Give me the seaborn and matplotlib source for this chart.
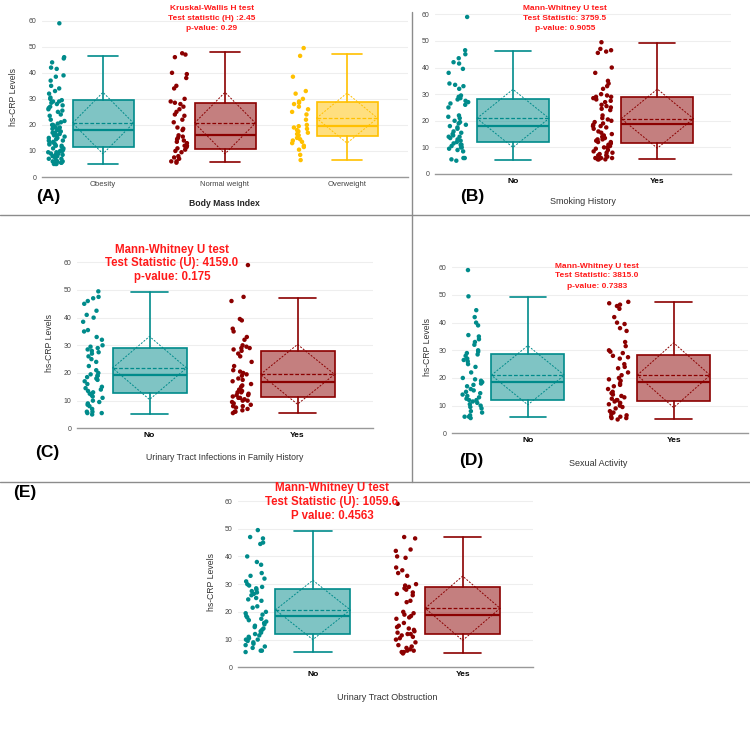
import numpy as np
import pandas as pd
import matplotlib
matplotlib.use("Agg")
import matplotlib.pyplot as plt
from matplotlib.lines import Line2D
import seaborn as sns

# ---- data ----
# box stats: q1, median, q3, lower whisker, upper whisker, mean, sd
bmi_groups = ["Obesity", "Normal weight", "Overweight"]
bmi_q1 = [11.5, 10.9, 15.6]
bmi_med = [18.1, 16.1, 19.7]
bmi_q3 = [29.4, 28.3, 28.7]
bmi_lo = [5.1, 5.6, 6.4]
bmi_hi = [46.6, 48.1, 47.2]
bmi_mean = [20.7, 20.7, 22.6]
bmi_sd = [11.8, 11.8, 9.6]
bmi_obesity = [59, 46, 45.5, 44, 42, 41.5, 39, 38.5, 37, 35, 34, 33, 32, 30.5, 30, 29.5, 29, 29,
               28.5, 28, 27.5, 27, 26.5, 26, 25.5, 25, 24, 23.5, 22, 21.5, 21, 20.5, 20, 20, 19.5,
               19, 19, 18.5, 18, 18, 17.5, 17, 17, 16.5, 16, 16, 15.5, 15, 15, 14.5, 14, 14, 13.5,
               13, 13, 12.5, 12.5, 12, 12, 11.5, 11, 11, 10.5, 10, 10, 9.5, 9.5, 9, 9, 8.5, 8.5,
               8, 8, 7.5, 7, 7, 6.5, 6, 6, 6, 5.5, 5.5, 5.5, 5, 5, 5]
bmi_normal = [47.5, 47, 46, 40, 39.5, 38, 35, 34, 30, 29, 28.5, 28, 27, 26, 25, 24, 23.5, 22, 21,
              19, 18.5, 18, 16, 15.5, 15, 14.5, 14, 13.5, 13, 12, 12, 11.5, 11, 10.5, 10, 9.5, 8,
              7.5, 7, 6, 6, 5.5]
bmi_over = [49.5, 46.5, 38.5, 33, 32, 30, 29, 28.5, 28, 27, 26, 25, 24, 22, 20, 19.5, 19, 18.5,
            18, 17.5, 17, 16.5, 16, 15, 14.5, 14, 13.5, 13, 12, 11.5, 10.5, 8.5, 6.5]

yn_groups = ["No", "Yes"]

smk_q1 = [12.0, 11.8]
smk_med = [18.0, 18.9]
smk_q3 = [28.1, 28.8]
smk_lo = [5.1, 5.5]
smk_hi = [46.2, 49.4]
smk_mean = [20.9, 20.8]
smk_sd = [10.9, 11.1]
smk_no = [59, 46.5, 45, 43.5, 42, 41.5, 39.5, 38, 34, 33.5, 33, 32, 29.5, 29, 28.5, 28, 27.5, 27,
          26.5, 26, 25, 22, 21.5, 21, 20, 19.5, 19, 18.5, 18, 17.5, 17, 16, 15.5, 15, 14.5, 14,
          14, 13.5, 13, 12.5, 12, 11.5, 11, 11, 10.5, 10, 10, 9.5, 9, 8.5, 6, 6, 5.5, 5]
smk_yes = [49.5, 47, 46.5, 46, 45.5, 40, 38, 35, 34, 33, 32, 30, 29.5, 29, 29, 28.5, 28, 27.5,
           27, 26, 25.5, 25, 24.5, 24, 22, 21, 20.5, 20, 19.5, 19, 18.5, 18, 18, 17.5, 17, 16,
           15.5, 15, 14.5, 14, 13.5, 13, 13, 12.5, 12, 12, 11.5, 11, 10.5, 10, 10, 9.5, 9, 8.5,
           8, 8, 7.5, 7, 7, 6.5, 6, 6, 6, 5.5, 5.5, 5.5]

uti_q1 = [12.7, 11.4]
uti_med = [19.3, 16.9]
uti_q3 = [28.9, 28.1]
uti_lo = [5.1, 5.7]
uti_hi = [49.4, 47.0]
uti_mean = [21.8, 19.5]
uti_sd = [11.4, 10.8]
uti_no = [49.5, 47.5, 47, 46, 45, 42.5, 41, 40, 38.5, 35.5, 35, 33, 32, 30, 29.5, 29, 28.5, 28,
          27.5, 27, 26, 25, 24, 22.5, 21, 20, 19.5, 19, 19, 18.5, 18, 17.5, 17, 16, 15, 14.5, 14,
          13.5, 13, 12.5, 12, 11.5, 11, 10, 9.5, 9, 8.5, 8, 7, 6, 6, 5.5, 5.5, 5]
uti_yes = [59, 47.5, 46, 39.5, 39, 36, 35, 33, 32, 30, 29.5, 29, 29, 28.5, 28, 27, 26, 24, 22.5,
           21, 20.5, 20, 19.5, 19, 18, 17.5, 17, 16, 15.5, 15, 14, 13.5, 13, 13, 12.5, 12, 12,
           11.5, 11, 11, 10.5, 10, 10, 9.5, 9, 8.5, 8, 8, 7.5, 7, 6.5, 6, 6, 5.5]

sex_q1 = [11.9, 11.8]
sex_med = [18.7, 18.4]
sex_q3 = [28.6, 28.3]
sex_lo = [5.8, 5.1]
sex_hi = [49.4, 47.5]
sex_mean = [21.0, 21.0]
sex_sd = [10.7, 11.7]
sex_no = [59, 49.5, 44.5, 42, 40, 39, 35.5, 35, 34, 33, 32, 30, 29.5, 29, 28.5, 28, 27, 26.5, 26,
          25, 24, 22, 20, 19.5, 19, 18.5, 18, 17.5, 17, 16, 15.5, 15, 14.5, 14, 13.5, 13, 12.5,
          12, 12, 11.5, 11, 10.5, 10, 9.5, 9, 8, 7.5, 6.5, 6, 6, 5.5]
sex_yes = [47.5, 47, 46.5, 46, 45, 42, 40, 39.5, 38, 37, 33, 31.5, 30, 29.5, 29, 28, 27.5, 27, 25,
           24, 23.5, 22, 21, 20, 19.5, 19, 18, 17.5, 17, 16, 15, 14.5, 14, 13.5, 13, 12.5, 12, 12,
           11.5, 11, 10.5, 10, 9.5, 9, 8, 7.5, 7, 6.5, 6, 6, 5.5, 5.5, 5]

obs_q1 = [12.0, 11.9]
obs_med = [18.5, 19.0]
obs_q3 = [28.1, 28.9]
obs_lo = [5.7, 5.3]
obs_hi = [49.3, 47.1]
obs_mean = [20.7, 21.3]
obs_sd = [10.7, 11.6]
obs_no = [49.5, 47, 46.5, 45, 44.5, 40, 38, 37, 34, 33, 32, 31, 30, 29.5, 29, 28.5, 28, 27.5, 27,
          26.5, 26, 25, 24.5, 24, 22, 21.5, 20, 19.5, 19, 18.5, 18, 17.5, 17, 16.5, 16, 15.5, 15,
          14.5, 14, 13.5, 13, 12.5, 12, 11.5, 11, 10.5, 10, 10, 9.5, 9, 8.5, 8, 7.5, 7, 6, 6, 5.5]
obs_yes = [59, 47, 46.5, 42.5, 42, 40, 39.5, 36, 35, 34, 33, 30, 29.5, 29, 28.5, 28, 27, 26.5, 26,
           24, 23.5, 20, 19.5, 19, 18.5, 18, 17.5, 16, 15, 14.5, 14, 13.5, 13, 12.5, 12, 12,
           11.5, 11, 10.5, 10, 9, 8, 7.5, 7, 6.5, 6, 6, 5.5, 5.5, 5]

TEAL = "#008B8B"
DARKRED = "#8B0000"
GOLD = "#FFC000"

W, H = 750, 747

sns.set_theme(style="white")
plt.rcParams["font.family"] = ["Liberation Sans", "DejaVu Sans"]

fig = plt.figure(figsize=(W / 100, H / 100), dpi=100)


def ftext(x, y, s, **kw):
    kw.setdefault("ha", "center")
    kw.setdefault("va", "center")
    fig.text(x / W, 1 - y / H, s, **kw)


def make_axes(left, right, y0, y60, ymax=63):
    ppu = (y0 - y60) / 60.0
    hpx = ymax * ppu
    return fig.add_axes([left / W, 1 - y0 / H, (right - left) / W, hpx / H])


def draw_panel(ax, groups, series, q1, med, q3, lo, hi, mean, sd, colors, xlim,
               bold_ticks=True):
    df = pd.DataFrame({
        "group": np.repeat(groups, [len(s) for s in series]),
        "value": np.concatenate([np.asarray(s, float) for s in series]),
    })
    n_before = len(ax.collections)
    sns.stripplot(data=df, x="group", y="value", hue="group", order=groups,
                  hue_order=groups, palette=colors, jitter=0.07, size=3.2,
                  linewidth=0, legend=False, ax=ax)
    # points sit to the left of their box
    for coll in ax.collections[n_before:]:
        off = coll.get_offsets()
        off[:, 0] = off[:, 0] - 0.38
        coll.set_offsets(off)

    bw = 0.5
    for i, c in enumerate(colors):
        st = [dict(med=med[i], q1=q1[i], q3=q3[i], whislo=lo[i], whishi=hi[i], fliers=[])]
        ax.bxp(st, positions=[i], widths=bw, capwidths=bw / 2, patch_artist=True,
               showfliers=False, manage_ticks=False,
               boxprops=dict(facecolor=matplotlib.colors.to_rgba(c, 0.5), edgecolor=c, lw=1.2),
               medianprops=dict(color=c, lw=1.6),
               whiskerprops=dict(color=c, lw=1.2),
               capprops=dict(color=c, lw=1.2))
        ax.hlines(mean[i], i - bw / 2, i + bw / 2, colors=c, lw=0.9, linestyles=(0, (3, 1.5)))
        ax.plot([i - bw / 2, i, i + bw / 2, i, i - bw / 2],
                [mean[i], mean[i] + sd[i], mean[i], mean[i] - sd[i], mean[i]],
                color=c, lw=0.7, ls=(0, (2, 1.5)))

    ax.set_xlim(*xlim)
    ax.set_ylim(0, 63)
    ax.set_xticks(range(len(groups)))
    if bold_ticks:
        ax.set_xticklabels(groups, fontsize=6, fontweight="bold", color="black")
    else:
        ax.set_xticklabels(groups, fontsize=5.5, color="#444444")
    ax.set_yticks([0, 10, 20, 30, 40, 50, 60])
    ax.set_yticklabels(["0", "10", "20", "30", "40", "50", "60"], fontsize=5, color="#444444")
    ax.tick_params(axis="x", length=0, pad=3)
    ax.tick_params(axis="y", length=2.5, width=0.6, color="#999999", pad=1.5)
    ax.grid(axis="y", color="#eeeeee", lw=0.8)
    ax.set_axisbelow(True)
    ax.set_xlabel("")
    ax.set_ylabel("")
    for side in ["top", "right", "left"]:
        ax.spines[side].set_visible(False)
    ax.spines["bottom"].set_color("#999999")
    ax.spines["bottom"].set_linewidth(1.0)
    ax.patch.set_alpha(0)


# (A) Body Mass Index
axA = make_axes(42, 408, 177, 20.7)
draw_panel(axA, bmi_groups, [bmi_obesity, bmi_normal, bmi_over], bmi_q1, bmi_med, bmi_q3,
           bmi_lo, bmi_hi, bmi_mean, bmi_sd, [TEAL, DARKRED, GOLD], (-0.5, 2.5),
           bold_ticks=False)
# (B) Smoking History
axB = make_axes(435, 731, 174, 14.3)
draw_panel(axB, yn_groups, [smk_no, smk_yes], smk_q1, smk_med, smk_q3, smk_lo, smk_hi,
           smk_mean, smk_sd, [TEAL, DARKRED], (-0.54, 1.51))
# (C) UTI in family history
axC = make_axes(77, 373, 428.3, 262.3)
draw_panel(axC, yn_groups, [uti_no, uti_yes], uti_q1, uti_med, uti_q3, uti_lo, uti_hi,
           uti_mean, uti_sd, [TEAL, DARKRED], (-0.49, 1.51))
# (D) Sexual Activity
axD = make_axes(452, 748, 433.3, 267.3)
draw_panel(axD, yn_groups, [sex_no, sex_yes], sex_q1, sex_med, sex_q3, sex_lo, sex_hi,
           sex_mean, sex_sd, [TEAL, DARKRED], (-0.52, 1.51))
# (E) Urinary Tract Obstruction
axE = make_axes(238, 533, 667.3, 501)
draw_panel(axE, yn_groups, [obs_no, obs_yes], obs_q1, obs_med, obs_q3, obs_lo, obs_hi,
           obs_mean, obs_sd, [TEAL, DARKRED], (-0.5, 1.47))

# axis titles / panel letters
lab = dict(fontsize=6.2, color="#333333", rotation=90)
ftext(14, 97, "hs-CRP Levels", **lab)
ftext(50, 343, "hs-CRP Levels", **lab)
ftext(427, 347, "hs-CRP Levels", **lab)
ftext(212, 582, "hs-CRP Levels", **lab)

ftext(224, 203, "Body Mass Index", fontsize=6.2, fontweight="bold", color="#222222")
ftext(583, 202, "Smoking History", fontsize=6.5, color="#333333")
ftext(225, 458, "Urinary Tract Infections in Family History", fontsize=6.3, color="#333333")
ftext(598, 463, "Sexual Activity", fontsize=6.5, color="#333333")
ftext(387, 697, "Urinary Tract Obstruction", fontsize=6.5, color="#333333")

letter = dict(fontsize=12.5, fontweight="bold", color="black")
ftext(48, 197, "(A)", **letter)
ftext(472, 197, "(B)", **letter)
ftext(47, 453, "(C)", **letter)
ftext(471, 460, "(D)", **letter)
ftext(25, 493, "(E)", **letter)

# test annotations
RED = "#FF1A1A"
small = dict(fontsize=6, fontweight="bold", color=RED)
big = dict(fontsize=8.3, fontweight="bold", color=RED)
for y, s in zip([8, 19, 29], ["Kruskal-Wallis H test", "Test statistic (H) :2.45", "p-value: 0.29"]):
    ftext(212, y, s, **small)
for y, s in zip([9, 19, 29], ["Mann-Whitney U test", "Test Statistic: 3759.5", "p-value: 0.9055"]):
    ftext(565, y, s, **small)
for y, s in zip([250, 263.5, 277], ["Mann-Whitney U test", "Test Statistic (U): 4159.0", "p-value: 0.175"]):
    ftext(172, y, s, **big)
for y, s in zip([266, 276, 286], ["Mann-Whitney U test", "Test Statistic: 3815.0", "p-value: 0.7383"]):
    ftext(597, y, s, **small)
for y, s in zip([488, 502, 516], ["Mann-Whitney U test", "Test Statistic (U): 1059.6", "P value: 0.4563"]):
    ftext(332, y, s, **big)

# panel separators
sep = dict(color="#8c8c8c", lw=1.0, transform=fig.transFigure)
fig.add_artist(Line2D([412 / W, 412 / W], [1 - 12 / H, 1 - 482 / H], **sep))
fig.add_artist(Line2D([0, 1], [1 - 215 / H, 1 - 215 / H], **sep))
fig.add_artist(Line2D([0, 1], [1 - 482 / H, 1 - 482 / H], **sep))

fig.savefig("out.png", dpi=100)
